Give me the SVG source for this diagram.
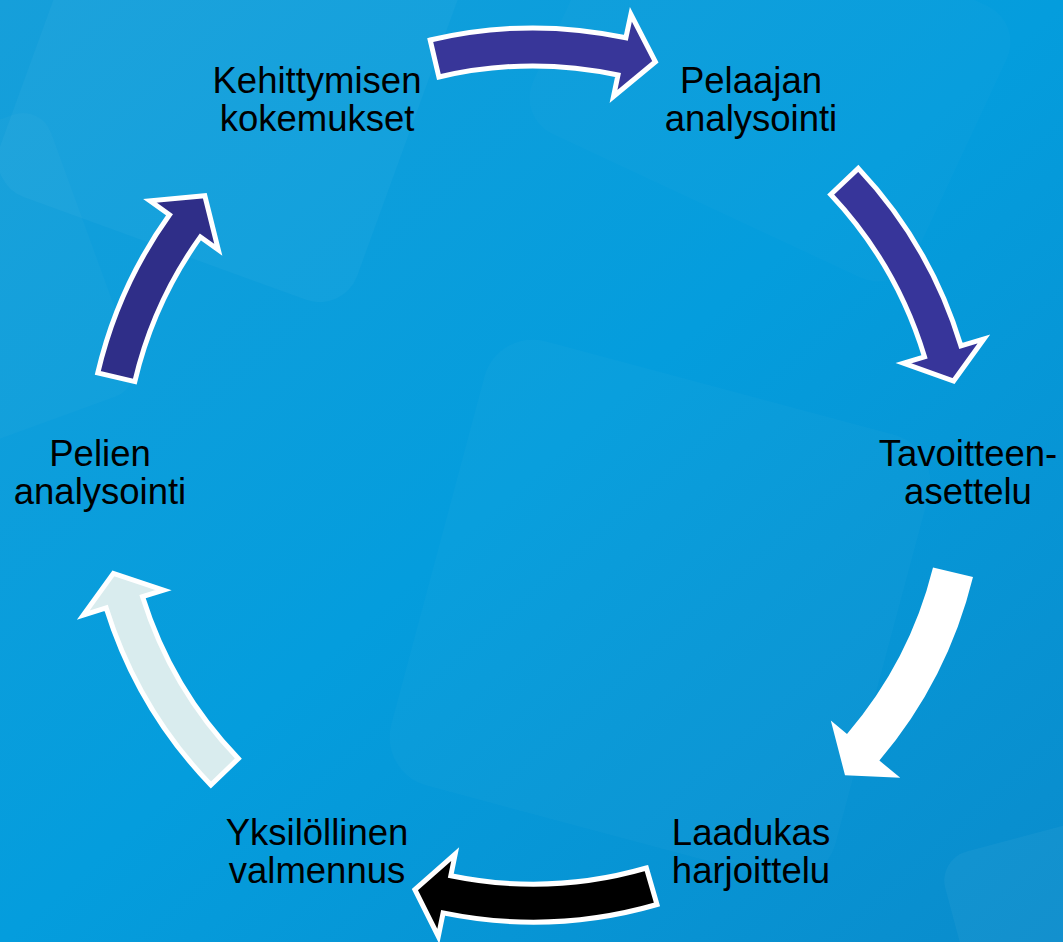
<svg xmlns="http://www.w3.org/2000/svg" width="1063" height="942" viewBox="0 0 1063 942">
<defs>
<linearGradient id="bg" x1="0" y1="0" x2="1" y2="1">
<stop offset="0" stop-color="#169fda"/>
<stop offset="0.5" stop-color="#049ddd"/>
<stop offset="1" stop-color="#0a8ccc"/>
</linearGradient>
<style>
.lbl{font-family:"Liberation Sans",Arial,sans-serif;font-size:36.5px;fill:#000;text-anchor:middle}
.arr{stroke:#fff;stroke-width:5;stroke-linejoin:miter}
.sh{fill:#fff}
</style>
</defs>
<rect width="1063" height="942" fill="url(#bg)"/>
<g id="background-shapes">
<rect class="sh" x="40" y="-120" width="380" height="380" rx="40" transform="rotate(20 230 70)" opacity="0.03"/>
<rect class="sh" x="-160" y="140" width="260" height="300" rx="30" transform="rotate(-20 -30 290)" opacity="0.025"/>
<rect class="sh" x="430" y="380" width="460" height="460" rx="50" transform="rotate(15 660 610)" opacity="0.025"/>
<rect class="sh" x="960" y="830" width="200" height="200" rx="30" transform="rotate(-15 1060 930)" opacity="0.04"/>
<rect class="sh" x="560" y="-80" width="420" height="300" rx="40" transform="rotate(25 770 70)" opacity="0.02"/>
</g>
<g id="connectors">
<path id="arrow-top" class="arr" fill="#383699" d="M430.2,40 A447,447 0 0 1 625.9,37.8 L630.9,14.3 L655.4,61.8 L613.5,96.5 L618,75 A409,409 0 0 0 438.9,77 Z"/>
<path id="arrow-right-upper" class="arr" fill="#37359a" d="M858.3,168.4 A447,447 0 0 1 960.9,345.8 L983.9,338.9 L953.6,381 L903.5,363.2 L924.5,356.8 A409,409 0 0 0 830.7,194.5 Z"/>
<path id="arrow-right-lower" fill="#ffffff" d="M973,577 A450,450 0 0 1 879.4,760.6 L900.3,777.8 L845,775.2 L830.8,720.5 L847,733.9 A406,406 0 0 0 933,567.5 Z"/>
<path id="arrow-bottom" class="arr" fill="#000000" d="M657,904.5 A447,447 0 0 1 443.1,912.9 L438.3,936.4 L414.9,889.5 L455.2,854.1 L450.8,875.7 A409,409 0 0 0 646.4,868 Z"/>
<path id="arrow-left-lower" class="arr" fill="#d9ecee" d="M210.9,785 A447,447 0 0 1 106.2,607.9 L83.3,615.1 L113.4,573.4 L163.5,590.1 L142.5,596.6 A409,409 0 0 0 238.3,758.6 Z"/>
<path id="arrow-left-upper" class="arr" fill="#2f2e88" d="M97.8,372.9 A447,447 0 0 1 169.5,214.8 L150,200.8 L204.8,195.7 L218.3,249.7 L200.4,236.9 A409,409 0 0 0 134.8,381.6 Z"/>
</g>
<g id="node-kehittymisen"><text class="lbl" x="317" y="93">Kehittymisen</text><text class="lbl" x="317" y="131">kokemukset</text></g>
<g id="node-pelaajan"><text class="lbl" x="751" y="93">Pelaajan</text><text class="lbl" x="751" y="131">analysointi</text></g>
<g id="node-tavoitteen"><text class="lbl" x="968" y="466">Tavoitteen-</text><text class="lbl" x="968" y="504">asettelu</text></g>
<g id="node-laadukas"><text class="lbl" x="751" y="845">Laadukas</text><text class="lbl" x="751" y="883">harjoittelu</text></g>
<g id="node-yksilollinen"><text class="lbl" x="317" y="845">Yksilöllinen</text><text class="lbl" x="317" y="883">valmennus</text></g>
<g id="node-pelien"><text class="lbl" x="100" y="466">Pelien</text><text class="lbl" x="100" y="504">analysointi</text></g>
</svg>
